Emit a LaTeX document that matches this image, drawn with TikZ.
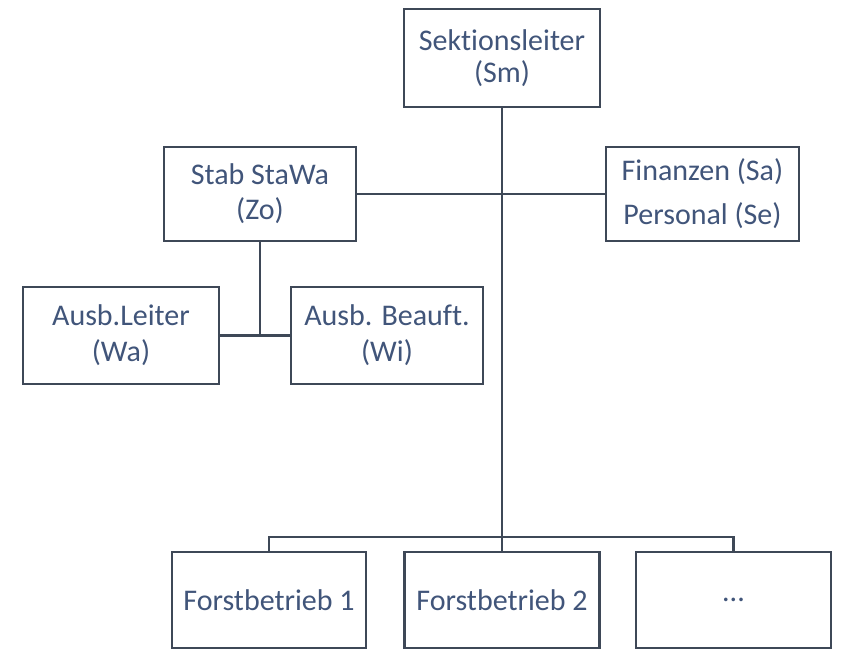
\documentclass[tikz,border=0pt]{standalone}
\usepackage{fontspec}
\setmainfont{Carlito}[RawFeature=-liga]
\usepackage{xcolor}
\definecolor{boxline}{HTML}{3E4857}
\definecolor{boxtext}{HTML}{41557A}

\tikzset{
    orgbox/.style={draw=boxline, line width=2.5pt, fill=white, text=boxtext,
        align=center, inner sep=0pt, font=\fontsize{30}{32}\selectfont},
    orgline/.style={draw=boxline, line width=2.5pt}
}

\begin{document}
\begin{tikzpicture}[x=1pt, y=-1pt]
        \useasboundingbox (0,0) rectangle (846,663);

        \node [orgbox, minimum width=196pt, minimum height=98pt] (sl) at (502,58) {Sektionsleiter\\(Sm)};
        \node [orgbox, minimum width=192pt, minimum height=94pt] (stab) at (260,194) {Stab StaWa\\[3pt](Zo)};
        \node [orgbox, minimum width=193pt, minimum height=94pt] (fin) at (702.5,194) {Finanzen (Sa)\\[12pt]Personal (Se)};
        \node [orgbox, minimum width=196pt, minimum height=97pt] (al) at (121,335.5) {Ausb.Leiter\\[4pt](Wa)};
        \node [orgbox, minimum width=192pt, minimum height=97pt] (ab) at (387,335.5) {Ausb. Beauft.\\[4pt](Wi)};
        \node [orgbox, minimum width=194pt, minimum height=96pt] (fb1) at (269,600) {Forstbetrieb 1};
        \node [orgbox, minimum width=195pt, minimum height=96pt] (fb2) at (502,600) {Forstbetrieb 2};
        \node [orgbox, minimum width=195pt, minimum height=96pt] (fb3) at (733.5,600) {...};

        \coordinate (bus) at (502,537);
        \coordinate (stabfoot) at (stab.south |- al.east);

        \draw [orgline] (sl.south) -- (fb2.north);
        \draw [orgline] (stab.east) -- (fin.west);
        \draw [orgline] (stab.south) -- (stabfoot);
        \draw [orgline] (al.east) -- (ab.west);
        \draw [orgline] (fb1.north) |- (bus) -| (fb3.north);
\end{tikzpicture}
\end{document}
